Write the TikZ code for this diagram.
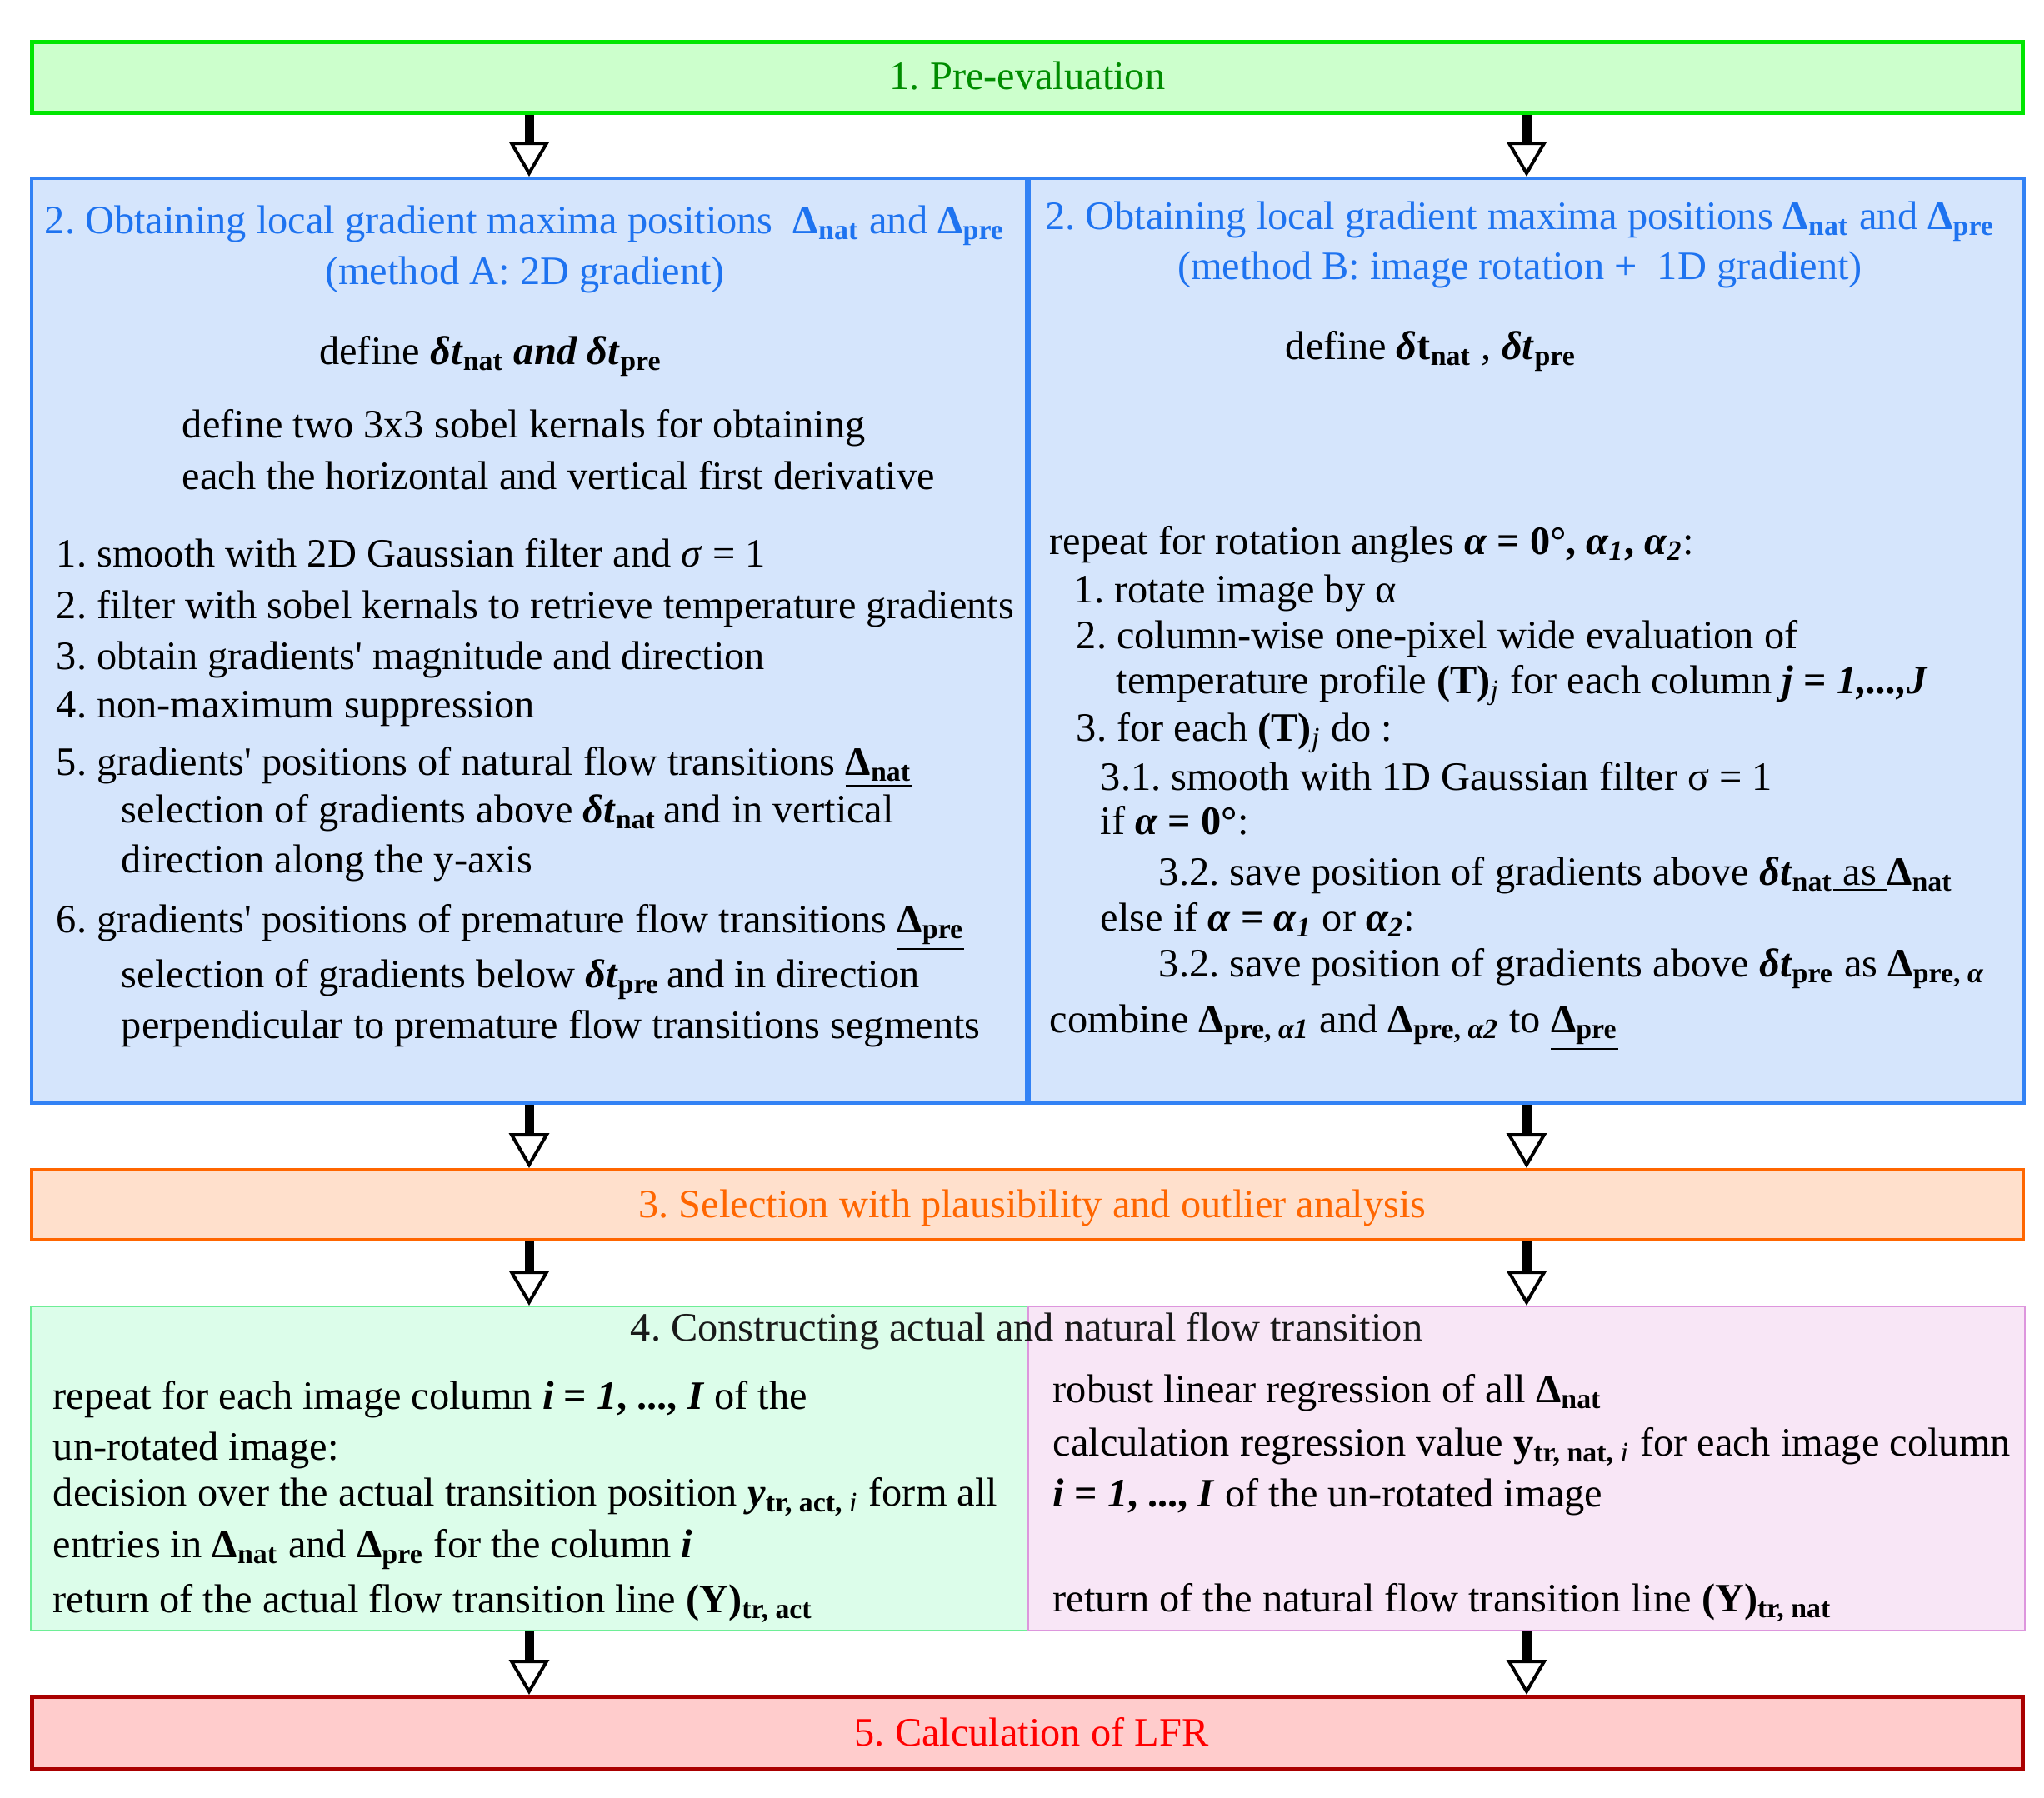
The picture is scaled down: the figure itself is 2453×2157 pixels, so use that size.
\documentclass[tikz,border=0pt]{standalone}
\usepackage{fontspec}
\setmainfont{Liberation Serif}
\usetikzlibrary{arrows.meta}

\definecolor{preline}{RGB}{0,230,0}
\definecolor{prefill}{RGB}{204,255,204}
\definecolor{pretext}{RGB}{0,140,0}
\definecolor{grdline}{RGB}{50,130,245}
\definecolor{grdfill}{RGB}{213,229,252}
\definecolor{grdtext}{RGB}{30,115,240}
\definecolor{selline}{RGB}{255,102,0}
\definecolor{selfill}{RGB}{255,224,204}
\definecolor{conAline}{RGB}{110,238,150}
\definecolor{conAfill}{RGB}{220,253,234}
\definecolor{conBline}{RGB}{221,150,221}
\definecolor{conBfill}{RGB}{248,230,246}
\definecolor{lfrline}{RGB}{170,0,0}
\definecolor{lfrfill}{RGB}{255,204,204}
\definecolor{lfrtext}{RGB}{255,0,0}

\newcommand{\dlt}[1]{\textbf{\textit{δt}}\textsubscript{\textbf{#1}}}
\newcommand{\Dlt}[1]{\textbf{Δ}\textsubscript{\textbf{#1}}}
\newcommand{\qs}{\textquotesingle}

\begin{document}
\frenchspacing
\begin{tikzpicture}[x=0.25pt, y=-0.25pt, font=\fontsize{12.1pt}{14pt}\selectfont,
	box/.style={draw, rectangle, inner sep=0pt},
	txt/.style={anchor=base west, inner sep=0pt},
	mid/.style={anchor=base, inner sep=0pt},
	flow/.style={line width=2.75pt, -{Triangle[open, fill=white, length=10.5pt, width=12pt, line width'=1pt]}}]
	\useasboundingbox (0,0) rectangle (2453,2157);

	% boxes
	\node[box, draw=preline, fill=prefill, line width=1.25pt, minimum width=597.25pt, minimum height=21.25pt] (pre) at (1233,93) {};
	\node[box, draw=grdline, fill=grdfill, line width=1pt, minimum width=298.5pt, minimum height=277.5pt] (grdA) at (635,769) {};
	\node[box, draw=grdline, fill=grdfill, line width=1pt, minimum width=298.5pt, minimum height=277.5pt] (grdB) at (1832,769) {};
	\node[box, draw=selline, fill=selfill, line width=1pt, minimum width=597.5pt, minimum height=21pt] (sel) at (1233,1446) {};
	\node[box, draw=conAline, fill=conAfill, line width=0.5pt, minimum width=299pt, minimum height=97.25pt] (conA) at (635,1762.5) {};
	\node[box, draw=conBline, fill=conBfill, line width=0.5pt, minimum width=299pt, minimum height=97.25pt] (conB) at (1832,1762.5) {};
	\node[box, draw=lfrline, fill=lfrfill, line width=1.25pt, minimum width=597.25pt, minimum height=21.75pt] (lfr) at (1233,2080) {};

	% arrows
	\draw[flow] (pre.south -| grdA.north) -- (grdA.north);
	\draw[flow] (pre.south -| grdB.north) -- (grdB.north);
	\draw[flow] (grdA.south) -- (grdA.south |- sel.north);
	\draw[flow] (grdB.south) -- (grdB.south |- sel.north);
	\draw[flow] (sel.south -| conA.north) -- (conA.north);
	\draw[flow] (sel.south -| conB.north) -- (conB.north);
	\draw[flow] (conA.south) -- (conA.south |- lfr.north);
	\draw[flow] (conB.south) -- (conB.south |- lfr.north);

	% one-line boxes
	\node[mid, pretext] (preT) at (1233,107) {1. Pre-evaluation};
	\node[mid, selline] (selT) at (1239,1461) {3. Selection with plausibility and outlier analysis};
	\node[mid, lfrtext] (lfrT) at (1238,2095) {5. Calculation of LFR};

	% method A
	\node[mid, grdtext] (tA1) at (630,280) {2. Obtaining local gradient maxima positions\ \ \Dlt{nat} and \Dlt{pre}};
	\node[mid, grdtext] (tA2) at (630,341) {(method A: 2D gradient)};
	\node[mid] (tA3) at (589,437) {define \dlt{nat} \textbf{\textit{and}} \dlt{pre}};
	\node[txt] (tA4) at (218,525) {define two 3x3 sobel kernals for obtaining};
	\node[txt] (tA5) at (218,587) {each the horizontal and vertical first derivative};
	\node[txt] (lA1) at (67,680) {1. smooth with 2D Gaussian filter and \textit{σ} = 1};
	\node[txt] (lA2) at (67,742) {2. filter with sobel kernals to retrieve temperature gradients};
	\node[txt] (lA3) at (67,803) {3. obtain gradients\qs{} magnitude and direction};
	\node[txt] (lA4) at (67,861) {4. non-maximum suppression};
	\node[txt] (lA5) at (67,930) {5. gradients\qs{} positions of natural flow transitions \underline{\Dlt{nat}}};
	\node[txt] (lA5a) at (145,987) {selection of gradients above \dlt{nat}\,and in vertical};
	\node[txt] (lA5b) at (145,1047) {direction along the y-axis};
	\node[txt] (lA6) at (67,1119) {6. gradients\qs{} positions of premature flow transitions \underline{\Dlt{pre}}};
	\node[txt] (lA6a) at (145,1185) {selection of gradients below \dlt{pre}\,and in direction};
	\node[txt] (lA6b) at (145,1246) {perpendicular to premature flow transitions segments};

	% method B
	\node[mid, grdtext] (tB1) at (1824,275) {2. Obtaining local gradient maxima positions \Dlt{nat} and \Dlt{pre}};
	\node[mid, grdtext] (tB2) at (1824,335) {(method B: image rotation +\ \ 1D gradient)};
	\node[txt] (tB3) at (1542,431) {define \textbf{\textit{δ}t}\textsubscript{\textbf{nat}} , \dlt{pre}};
	\node[txt] (lB0) at (1259,665) {repeat for rotation angles \textbf{\textit{α} = 0°, \textit{α\textsubscript{1}}, \textit{α\textsubscript{2}}}:};
	\node[txt] (lB1) at (1288,723) {1. rotate image by α};
	\node[txt] (lB2) at (1291,778) {2. column-wise one-pixel wide evaluation of};
	\node[txt] (lB2a) at (1339,832) {temperature profile \textbf{(T)}\textsubscript{\textit{j}} for each column \textbf{\textit{j} = \textit{1,...,J}}};
	\node[txt] (lB3) at (1291,889) {3. for each \textbf{(T)}\textsubscript{\textit{j}} do :};
	\node[txt] (lB31) at (1320,948) {3.1. smooth with 1D Gaussian filter σ = 1};
	\node[txt] (lBif) at (1320,1001) {if \textbf{\textit{α} = 0°}:};
	\node[txt] (lB32) at (1390,1062) {3.2. save position of gradients above \dlt{nat}\underline{\ as\ }\Dlt{nat}};
	\node[txt] (lBel) at (1320,1117) {else if \textbf{\textit{α} = \textit{α\textsubscript{1}}} or \textbf{\textit{α\textsubscript{2}}}:};
	\node[txt] (lB32b) at (1390,1172) {3.2. save position of gradients above \dlt{pre} as \textbf{Δ}\textsubscript{\textbf{pre, \textit{α}}}};
	\node[txt] (lB4) at (1259,1239) {combine \textbf{Δ}\textsubscript{\textbf{pre, \textit{α1}}} and \textbf{Δ}\textsubscript{\textbf{pre, \textit{α2}}} to \underline{\Dlt{pre}}};

	% construction
	\node[mid, black!90] (conT) at (1232,1609) {4. Constructing actual and natural flow transition};
	\node[txt] (lC1) at (63,1691) {repeat for each image column \textbf{\textit{i} = \textit{1}, ..., \textit{I}} of the};
	\node[txt] (lC2) at (63,1752) {un-rotated image:};
	\node[txt] (lC3) at (63,1807) {decision over the actual transition position \textbf{\textit{y}}\textsubscript{\textbf{tr, act, }\textit{i}} form all};
	\node[txt] (lC4) at (63,1869) {entries in \Dlt{nat} and \Dlt{pre} for the column \textbf{\textit{i}}};
	\node[txt] (lC5) at (63,1935) {return of the actual flow transition line \textbf{(Y)}\textsubscript{\textbf{tr, act}}};
	\node[txt] (lD1) at (1263,1683) {robust linear regression of all \Dlt{nat}};
	\node[txt] (lD2) at (1263,1747) {calculation regression value \textbf{y}\textsubscript{\textbf{tr, nat, }\textit{i}} for each image column};
	\node[txt] (lD3) at (1263,1808) {\textbf{\textit{i} = \textit{1}, ..., \textit{I}} of the un-rotated image};
	\node[txt] (lD4) at (1263,1934) {return of the natural flow transition line \textbf{(Y)}\textsubscript{\textbf{tr, nat}}};
\end{tikzpicture}
\end{document}
